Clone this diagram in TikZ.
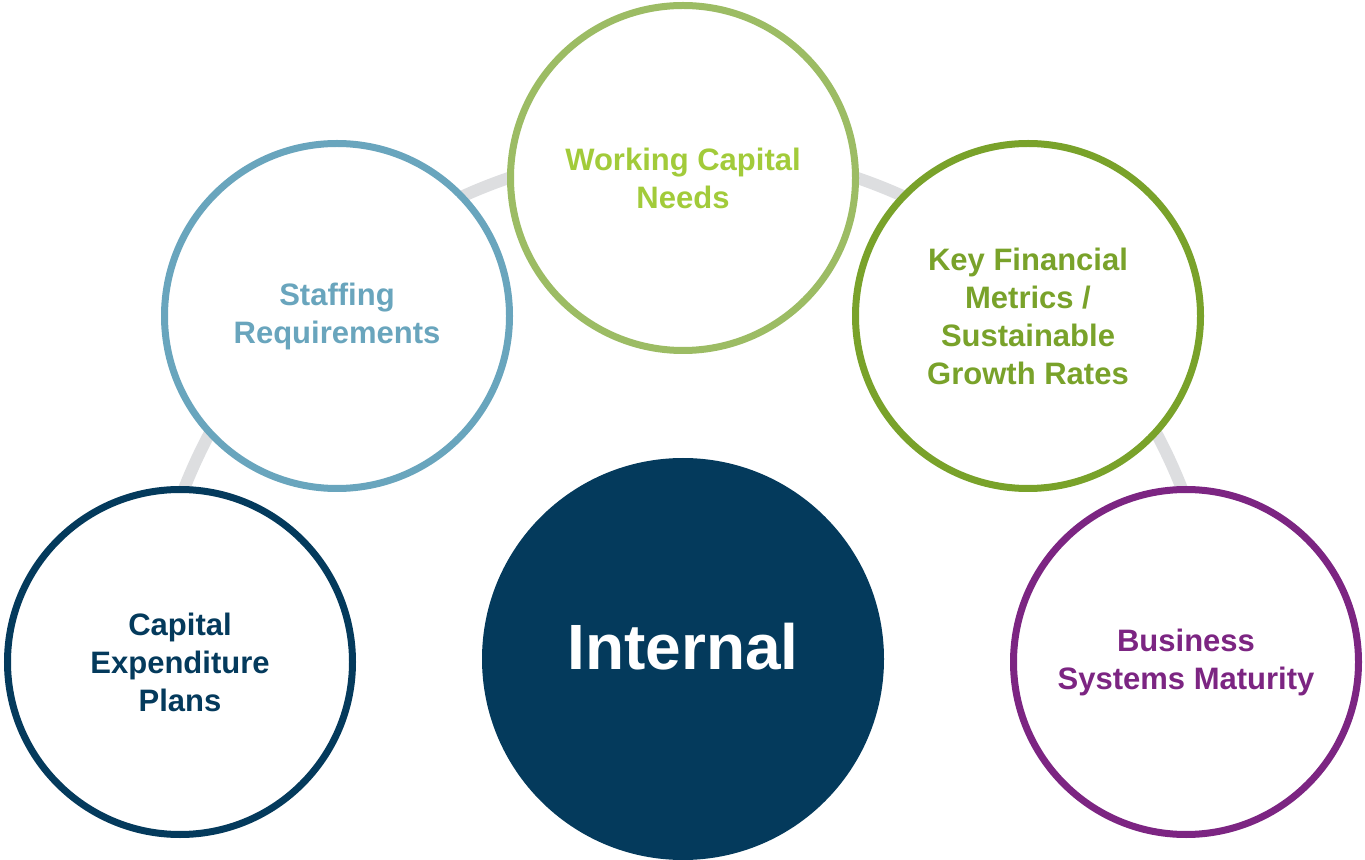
\documentclass[tikz,border=0pt]{standalone}
\usepackage{fontspec}
\setmainfont{Liberation Sans}

\definecolor{navy}{HTML}{043A5C}
\definecolor{steel}{HTML}{69A5BD}
\definecolor{sage}{HTML}{9CBC64}
\definecolor{lime}{HTML}{A2CB3A}
\definecolor{olive}{HTML}{79A22A}
\definecolor{plum}{HTML}{7C2582}
\definecolor{trackgray}{HTML}{DDDEE0}

\begin{document}
\begin{tikzpicture}[x=0.5pt, y=-0.5pt,
  ring/.style={circle, draw, line width=3.5pt, fill=white,
    minimum size=172.5pt, inner sep=0pt, align=center,
    font=\fontsize{15.5}{19}\selectfont\bfseries},
  hub/.style={circle, fill=navy, minimum size=201pt, inner sep=0pt},
  track/.style={line width=6pt, trackgray}]
\useasboundingbox (0, 0) rectangle (1365, 860);

% grey track behind the outer circles
\coordinate (arcc) at (683, 685);
\draw [track] ([xshift=-268pt]arcc) arc[start angle=180, end angle=0, radius=268pt];

%%%%%%%%%%%%%%%%%%%%%%%%%%%%%%%%%%%%%%%%

\node [ring, draw=navy,  text=navy]  (capex)   at (180, 662)  {Capital\\Expenditure\\Plans};
\node [ring, draw=steel, text=steel] (staff)   at (337, 316)  {Staffing\\Requirements};
\node [ring, draw=sage,  text=lime]  (wcap)    at (683, 178)  {Working Capital\\Needs};
\node [ring, draw=olive, text=olive] (metrics) at (1028, 316) {Key Financial\\Metrics /\\Sustainable\\Growth Rates};
\node [ring, draw=plum,  text=plum]  (systems) at (1186, 662) {Business\\Systems Maturity};

%%%%%%%%%%%%%%%%%%%%%%%%%%%%%%%%%%%%%%%%

\node [hub] (internal) at (683, 659) {};
\node [text=white, font=\fontsize{32}{38}\selectfont\bfseries] (hubtext)
  at ([yshift=6pt]internal.center) {Internal};
\end{tikzpicture}
\end{document}
